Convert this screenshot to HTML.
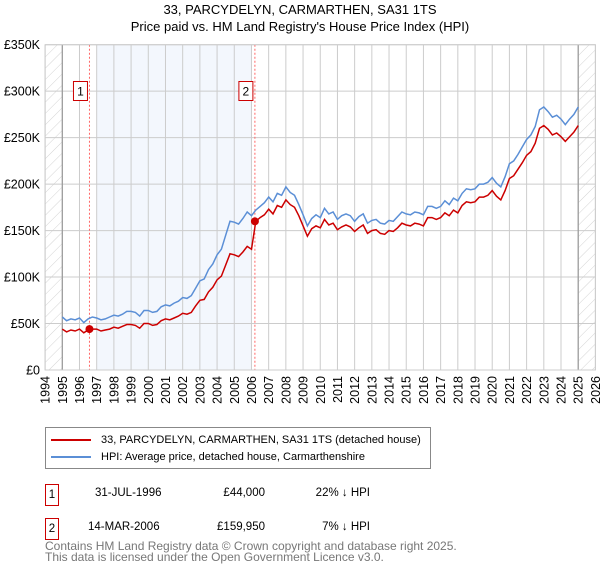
<!DOCTYPE html>
<html><head><meta charset="utf-8"><style>
body{margin:0;width:600px;height:560px;background:#fff;font-family:"Liberation Sans","DejaVu Sans",sans-serif;overflow:hidden;position:relative}
.t{position:absolute;white-space:nowrap}
</style></head><body>
<div class="t" style="left:0;width:600px;text-align:center;top:1px;font-size:13px;color:#000;line-height:17px">33, PARCYDELYN, CARMARTHEN, SA31 1TS<br>Price paid vs. HM Land Registry's House Price Index (HPI)</div>
<svg id="chart" width="600" height="420" style="position:absolute;left:0;top:0" font-family="Liberation Sans, DejaVu Sans, sans-serif">
<defs><pattern id="hatch" width="8" height="8" patternUnits="userSpaceOnUse" patternTransform="rotate(45)"><line x1="0" y1="0" x2="0" y2="8" stroke="#d4d4d4" stroke-width="1"/></pattern></defs>
<g id="bg"></g><g id="grid"></g><g id="lines"></g><g id="ann"></g>
</svg>
<div class="t" style="left:45px;top:427px;width:386px;height:42px;border:1px solid #888;box-sizing:border-box;font-size:11px">
 <div style="position:absolute;left:5px;top:6px"><span style="display:inline-block;width:40px;height:2px;background:#cc0000;vertical-align:middle;margin-right:10px"></span>33, PARCYDELYN, CARMARTHEN, SA31 1TS (detached house)</div>
 <div style="position:absolute;left:5px;top:23px"><span style="display:inline-block;width:40px;height:2px;background:#5b8fd6;vertical-align:middle;margin-right:10px"></span>HPI: Average price, detached house, Carmarthenshire</div>
</div>
<div style="position:absolute;left:0;top:484px;width:600px;height:22px;font-size:11.5px">
 <div class="t" style="left:45px;top:0;width:14px;height:22px;border:1px solid #cc0000;box-sizing:border-box;text-align:center;line-height:20px">1</div>
 <div class="t" style="left:95px;top:3px">31-JUL-1996</div>
 <div class="t" style="left:200px;width:65px;text-align:right;top:3px">£44,000</div>
 <div class="t" style="left:300px;width:70px;text-align:right;top:3px">22% ↓ HPI</div>
</div>
<div style="position:absolute;left:0;top:518px;width:600px;height:22px;font-size:11.5px">
 <div class="t" style="left:45px;top:0;width:14px;height:22px;border:1px solid #cc0000;box-sizing:border-box;text-align:center;line-height:20px">2</div>
 <div class="t" style="left:88px;top:3px">14-MAR-2006</div>
 <div class="t" style="left:200px;width:65px;text-align:right;top:3px">£159,950</div>
 <div class="t" style="left:300px;width:70px;text-align:right;top:3px">7% ↓ HPI</div>
</div>
<div class="t" style="left:45px;top:541px;font-size:12px;color:#777;line-height:11px">Contains HM Land Registry data © Crown copyright and database right 2025.<br>This data is licensed under the Open Government Licence v3.0.</div>
<script>
const yTicks=[0,50,100,150,200,250,300,350];
const yTickLabels=["£0","£50K","£100K","£150K","£200K","£250K","£300K","£350K"];
const xYears=[1994,1995,1996,1997,1998,1999,2000,2001,2002,2003,2004,2005,2006,2007,2008,2009,2010,2011,2012,2013,2014,2015,2016,2017,2018,2019,2020,2021,2022,2023,2024,2025,2026];
const hpiStart=1995;
const hpiValues=[57,53,55,54,56,51,55,57,56,54,55,57,59,58,60,63,63,62,58,64,64,62,63,68,70,69,72,74,78,77,80,88,96,98,108,114,124,130,145,160,159,157,163,170,166,172,176,180,186,181,190,188,197,191,188,178,167,155,163,167,164,174,168,170,162,166,168,166,160,165,168,158,161,162,158,157,161,160,165,170,168,167,170,169,167,176,176,174,176,182,178,185,182,190,195,194,195,200,200,202,207,201,197,208,222,225,232,240,248,253,262,280,283,278,272,274,270,264,270,275,283];
const priceValues=[44,41,43,42,44,40,43,44,44,42,43,44,46,45,47,49,49,48,45,50,50,48,49,53,55,54,56,58,61,60,62,69,75,76,84,89,97,101,113,125,124,122,127,133,130,160,164,167,173,168,177,175,183,178,175,166,155,144,152,155,153,162,156,158,151,154,156,154,149,153,156,147,150,151,147,146,150,149,153,158,156,155,158,157,155,164,164,162,164,169,166,172,169,177,181,180,181,186,186,188,193,187,183,193,206,209,216,223,231,235,244,260,263,259,253,255,251,246,251,256,263];
const saleDates=[1996.58,2006.2];
const salePrices=[44,159.95];
const saleLabels=["1","2"];
const NS='http://www.w3.org/2000/svg';
const X0=45.1,X1=595.4,Y0=370,Y1=44.7;
const xs=t=>X0+(t-1994)/32*(X1-X0);
const ys=v=>Y0-v/350*(Y0-Y1);
function mk(tag,attrs,parent){const e=document.createElementNS(NS,tag);for(const k in attrs)e.setAttribute(k,attrs[k]);document.getElementById(parent).appendChild(e);return e;}
let e;
e=mk('rect',{x:xs(1997),y:Y1,width:xs(2006)-xs(1997),height:Y0-Y1,fill:'#eef3fc',opacity:0.7},'bg');

e=mk('rect',{x:X0,y:Y1,width:xs(1995)-X0,height:Y0-Y1,fill:'url(#hatch)'},'bg');

e=mk('rect',{x:xs(2025),y:Y1,width:X1-xs(2025),height:Y0-Y1,fill:'url(#hatch)'},'bg');

yTicks.forEach((v,i)=>{
 e=mk('line',{x1:X0,x2:X1,y1:ys(v),y2:ys(v),stroke:'#cccccc','stroke-width':1},'grid');
 
 e=mk('text',{x:40,y:ys(v)+4.5,'text-anchor':'end','font-size':'12.5'},'grid');e.textContent=yTickLabels[i];
 
});
xYears.forEach(yr=>{
 e=mk('line',{x1:xs(yr),x2:xs(yr),y1:Y1,y2:Y0,stroke:'#cccccc','stroke-width':1},'grid');
 
 e=mk('text',{x:0,y:0,'text-anchor':'end','font-size':'12.5',transform:`translate(${xs(yr)+4.5},376) rotate(-90)`},'grid');e.textContent=yr;
 
});
[1995,2025].forEach(yr=>{e=mk('line',{x1:xs(yr),x2:xs(yr),y1:Y1,y2:Y0,stroke:'#999','stroke-width':1.2},'grid');
 });
saleDates.forEach(d=>{e=mk('line',{x1:xs(d),x2:xs(d),y1:Y1,y2:Y0,stroke:'#ff6666','stroke-width':1,'stroke-dasharray':'2,2'},'grid');
 });
function pts(arr){return arr.map((v,i)=>xs(hpiStart+i*0.25).toFixed(1)+','+ys(v).toFixed(1)).join(' ');}
e=mk('polyline',{points:pts(hpiValues),fill:'none',stroke:'#5b8fd6','stroke-width':1.5},'lines');

e=mk('polyline',{points:pts(priceValues),fill:'none',stroke:'#cc0000','stroke-width':1.5},'lines');

saleDates.forEach((d,i)=>{
 e=mk('circle',{cx:xs(d),cy:ys(salePrices[i]),r:4,fill:'#cc0000'},'ann');
 
 e=mk('rect',{x:xs(d)-16,y:81.5,width:14,height:19,fill:'#fff',stroke:'#cc0000','stroke-width':1},'ann');
 
 e=mk('text',{x:xs(d)-9,y:95.5,'text-anchor':'middle','font-size':'12'},'ann');e.textContent=saleLabels[i];
 
});
e=mk('rect',{x:X0,y:Y1,width:X1-X0,height:Y0-Y1,fill:'none',stroke:'#cccccc'},'ann');

</script>
</body></html>
